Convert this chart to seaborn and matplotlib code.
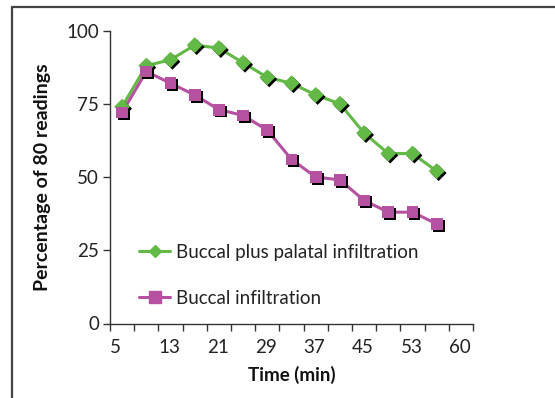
import matplotlib
matplotlib.use("Agg")
import matplotlib.pyplot as plt
import matplotlib.patheffects as pe
from matplotlib.lines import Line2D
import seaborn as sns
import pandas as pd

# time of each reading (min) and percentage of 80 readings
times = [5, 9, 13, 17, 21, 25, 29, 33, 37, 41, 45, 49, 53, 57]
palatal = [74, 88, 90, 95, 94, 89, 84, 82, 78, 75, 65, 58, 58, 52]
buccal = [72, 86, 82, 78, 73, 71, 66, 56, 50, 49, 42, 38, 38, 34]

tick_pos = [3, 11, 19, 27, 35, 43, 51, 59]
tick_labels = ["5", "13", "21", "29", "37", "45", "53", "60"]
minor_pos = list(range(3, 64, 4))

green = "#63b946"
magenta = "#b650a0"
ink = "#333333"

df = pd.DataFrame({"time": times, "palatal": palatal, "buccal": buccal})

sns.set_style("white")
plt.rcParams["font.family"] = ["Lato", "DejaVu Sans"]

fig = plt.figure(figsize=(5.55, 3.98), dpi=100)
ax = fig.add_axes([110 / 555, 74.5 / 398, 363 / 555, 293 / 398])

shadow = [pe.SimplePatchShadow(offset=(1.4, -1.4), shadow_rgbFace="black", alpha=1.0),
          pe.Normal()]

for col, color, marker, size in [("palatal", green, "D", 66), ("buccal", magenta, "s", 72)]:
    sns.lineplot(data=df, x="time", y=col, color=color, lw=2.2, ax=ax, zorder=2)
    sns.scatterplot(data=df, x="time", y=col, color=color, marker=marker, s=size,
                    linewidth=0, ax=ax, zorder=3, path_effects=shadow)

ax.set_xlim(3, 63)
ax.set_ylim(0, 100)
ax.set_xticks(tick_pos)
ax.set_xticklabels(tick_labels, ha="left")
ax.set_xticks(minor_pos, minor=True)
ax.set_yticks([0, 25, 50, 75, 100])

for s in ["top", "right"]:
    ax.spines[s].set_visible(False)
for s in ["left", "bottom"]:
    ax.spines[s].set_color(ink)
    ax.spines[s].set_linewidth(1.0)

ax.tick_params(axis="both", which="both", direction="out", length=5, width=1.0,
               color=ink, labelcolor="#222222", labelsize=13.5)
ax.tick_params(axis="x", which="major", pad=6, bottom=True)
ax.tick_params(axis="x", which="minor", bottom=True)
ax.tick_params(axis="y", pad=3, left=True)

ax.set_xlabel("Time (min)", fontsize=13.5, fontweight="bold", color="#111111", labelpad=7)
ax.set_ylabel("Percentage of 80 readings", fontsize=14, fontweight="bold",
              color="#111111", labelpad=11)

handles = [Line2D([], [], color=green, lw=2.2, marker="D", markersize=6.5),
           Line2D([], [], color=magenta, lw=2.2, marker="s", markersize=8)]
ax.legend(handles, ["Buccal plus palatal infiltration", "Buccal infiltration"],
          loc="center left", bbox_to_anchor=(0.08, 0.165), frameon=False,
          fontsize=13.5, handlelength=1.65, handletextpad=0.3, labelspacing=1.55,
          borderpad=0, borderaxespad=0, labelcolor="#222222")

# outer frame (top and left edges)
fig.add_artist(Line2D([12 / 555, 1], [1 - 7 / 398, 1 - 7 / 398], transform=fig.transFigure,
                      color="#444444", lw=1.6))
fig.add_artist(Line2D([12 / 555, 12 / 555], [0, 1 - 7 / 398], transform=fig.transFigure,
                      color="#444444", lw=1.6))

fig.savefig("out.png", dpi=100, facecolor="white")
